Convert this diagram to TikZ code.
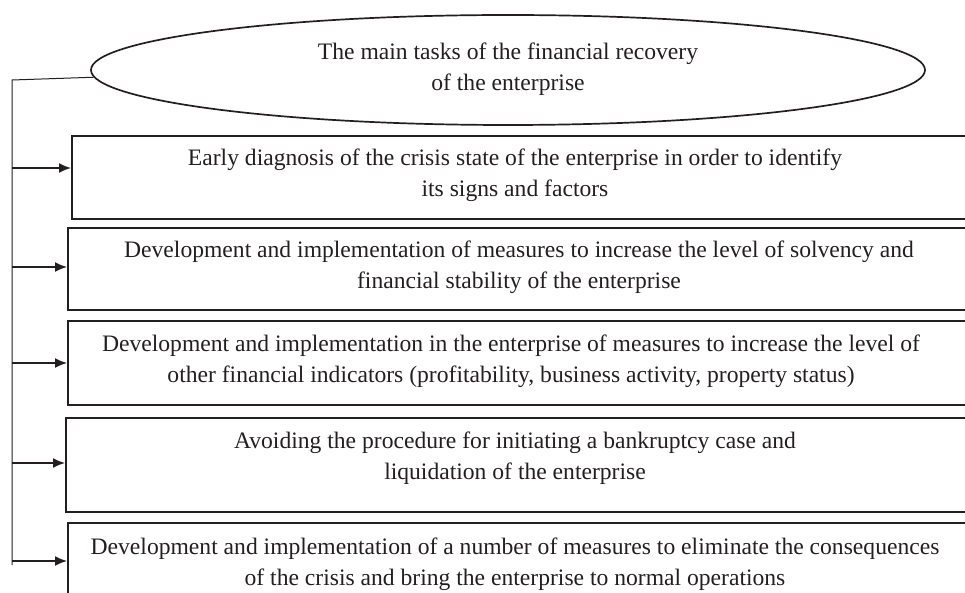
\documentclass[tikz,border=0pt]{standalone}
\usepackage{fontspec}
\setmainfont{Liberation Serif}
\usetikzlibrary{arrows.meta,shapes.geometric}
\definecolor{ink}{HTML}{231F20}
\begin{document}
\begin{tikzpicture}[x=1pt,y=-1pt,
  frame/.style={draw=ink, line width=1.8pt, inner sep=0pt, anchor=north west},
  label/.style={align=center, font=\fontsize{23.6}{31}\selectfont, inner sep=0pt, text=ink},
  link/.style={draw=ink, line width=1pt},
  arr/.style={draw=ink, line width=1.6pt, -{Latex[length=12pt,width=10pt]}}]
\useasboundingbox (0,0) rectangle (965,593);
\clip (0,0) rectangle (965,593);

% heading ellipse
\node[ellipse, draw=ink, line width=1.7pt, minimum width=834pt, minimum height=110pt, inner sep=0pt] (goal) at (508,70) {};
\node[label] (goaltxt) at (508,69) {The main tasks of the financial recovery\\of the enterprise};

% task boxes (they run on past the right and bottom edges)
\node[frame, minimum width=919pt, minimum height=83pt] (b1) at (71,135) {};
\node[frame, minimum width=923pt, minimum height=82pt] (b2) at (67,227) {};
\node[frame, minimum width=923pt, minimum height=84pt] (b3) at (67,320) {};
\node[frame, minimum width=925pt, minimum height=94pt] (b4) at (65,417) {};
\node[frame, minimum width=923pt, minimum height=98pt] (b5) at (67,522) {};

\node[label] (t1) at (515,175) {Early diagnosis of the crisis state of the enterprise in order to identify\\its signs and factors};
\node[label] (t2) at (519,267.5) {Development and implementation of measures to increase the level of solvency and\\financial stability of the enterprise};
\node[label] (t3) at (511,361) {Development and implementation in the enterprise of measures to increase the level of\\other financial indicators (profitability, business activity, property status)};
\node[label] (t4) at (515,458) {Avoiding the procedure for initiating a bankruptcy case and\\liquidation of the enterprise};
\node[label] (t5) at (515,564.5) {Development and implementation of a number of measures to eliminate the consequences\\of the crisis and bring the enterprise to normal operations};

% trunk line on the left
\coordinate (j0) at (12,80);
\coordinate (j1) at (12,168);
\coordinate (j2) at (12,267);
\coordinate (j3) at (12,363);
\coordinate (j4) at (12,463);
\coordinate (j5) at (12,561);
\coordinate (jend) at (12,565);

\draw[link] (goal.181) -- (j0) -- (jend);
\draw[arr] (j1) -- (j1 -| b1.west);
\draw[arr] (j2) -- (j2 -| b2.west);
\draw[arr] (j3) -- (j3 -| b3.west);
\draw[arr] (j4) -- (j4 -| b4.west);
\draw[arr] (j5) -- (j5 -| b5.west);
\end{tikzpicture}
\end{document}
